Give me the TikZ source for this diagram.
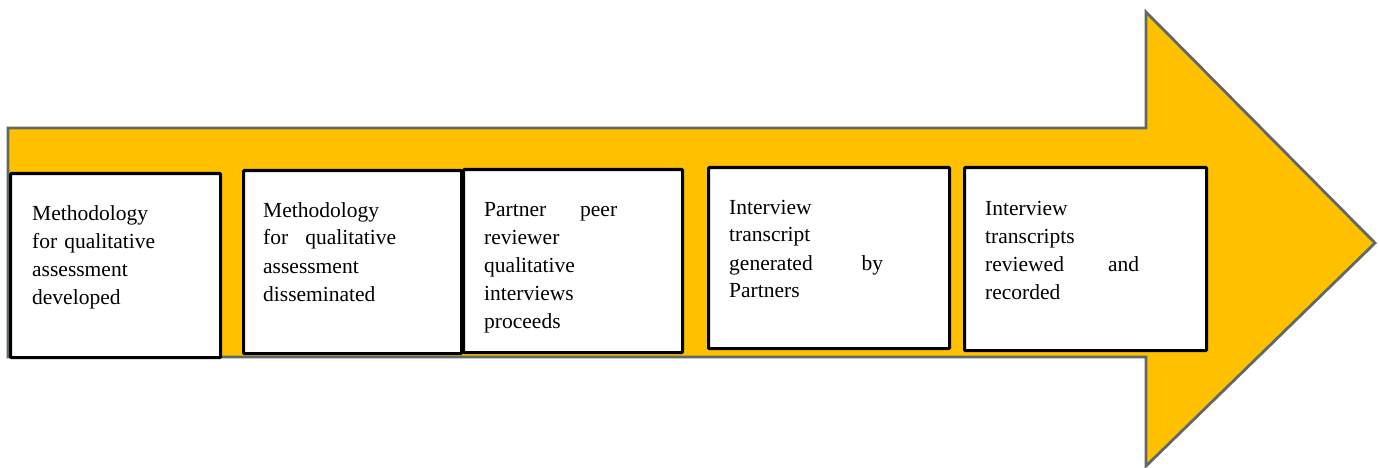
\documentclass[tikz,border=0pt]{standalone}
\usepackage{fontspec}
\setmainfont{Liberation Serif}
\definecolor{arrowfill}{HTML}{FFC000}
\definecolor{arrowedge}{HTML}{5F6A68}
\begin{document}
\begin{tikzpicture}[x=1pt,y=-1pt,
  bigarrow/.style={fill=arrowfill,draw=arrowedge,line width=2.8pt,line join=miter},
  stagebox/.style={draw=black,fill=white,line width=3.2pt,rounded corners=1pt,
    inner sep=0pt,anchor=north west},
  stagetext/.style={anchor=base west,inner sep=0pt,align=left,
    font=\fontsize{21.5}{28}\selectfont}]
\useasboundingbox (0,0) rectangle (1379,468);

% process arrow
\draw[bigarrow] (8,128) -- (1146,128) -- (1146,12) -- (1375,243)
  -- (1146,466) -- (1146,357) -- (8,357) -- cycle;

% stage boxes
\node[stagebox,minimum width=210pt,minimum height=184pt] (b1) at (9,172) {};
\node[stagebox,minimum width=218pt,minimum height=183pt] (b2) at (242,169) {};
\node[stagebox,minimum width=219pt,minimum height=183pt] (b3) at (462,168) {};
\node[stagebox,minimum width=241pt,minimum height=181pt] (b4) at (707,166) {};
\node[stagebox,minimum width=242pt,minimum height=183pt] (b5) at (963,166) {};

% stage labels
\node[stagetext,text width=125pt] (t1) at (32,220)
  {Methodology\\for qualitative\\assessment\\developed};
\node[stagetext,text width=133pt] (t2) at (263,217)
  {Methodology\\for\hfill qualitative\\assessment\\disseminated};
\node[stagetext,text width=133pt] (t3) at (484,216)
  {Partner\hfill peer\\reviewer\\qualitative\\interviews\\proceeds};
\node[stagetext,text width=154pt] (t4) at (729,214)
  {Interview\\transcript\\generated\hfill by\\Partners};
\node[stagetext,text width=154pt] (t5) at (985,215)
  {Interview\\transcripts\\reviewed\hfill and\\recorded};
\end{tikzpicture}
\end{document}
